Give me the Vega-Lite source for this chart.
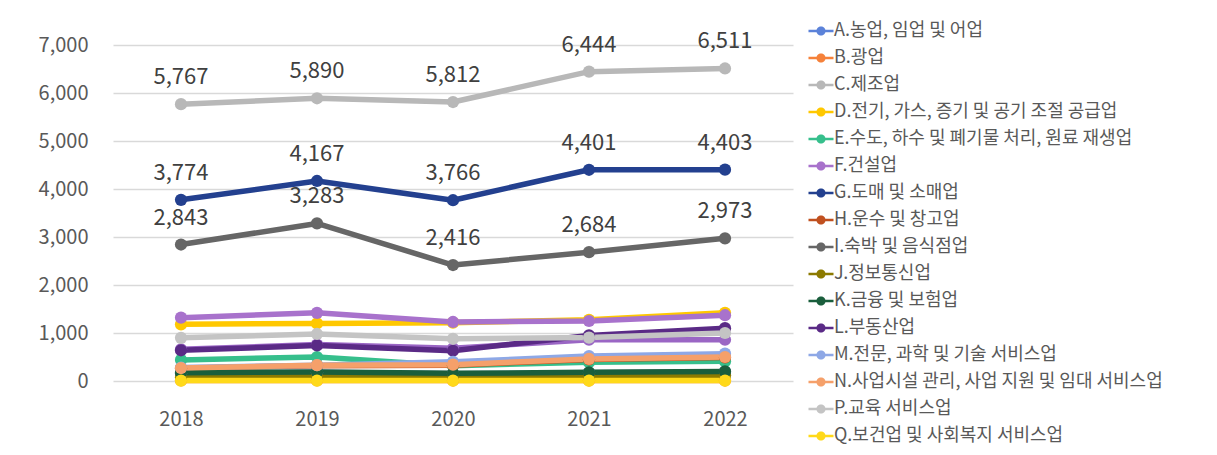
{
  "$schema": "https://vega.github.io/schema/vega-lite/v6.json",
  "width": 680,
  "height": 336,
  "autosize": {"type": "none"},
  "padding": {"left": 113, "top": 45, "right": 424, "bottom": 74},
  "background": "#ffffff",
  "config": {
    "view": {"stroke": null},
    "font": "Noto Sans CJK KR",
    "axis": {"labelFont": "Noto Sans CJK KR", "labelColor": "#595959"}
  },
  "data": {
    "values": [
      {"series": "A.농업, 임업 및 어업", "year": "2018", "value": 160},
      {"series": "A.농업, 임업 및 어업", "year": "2019", "value": 180},
      {"series": "A.농업, 임업 및 어업", "year": "2020", "value": 150},
      {"series": "A.농업, 임업 및 어업", "year": "2021", "value": 170},
      {"series": "A.농업, 임업 및 어업", "year": "2022", "value": 190},
      {"series": "B.광업", "year": "2018", "value": 12},
      {"series": "B.광업", "year": "2019", "value": 12},
      {"series": "B.광업", "year": "2020", "value": 10},
      {"series": "B.광업", "year": "2021", "value": 10},
      {"series": "B.광업", "year": "2022", "value": 10},
      {"series": "C.제조업", "year": "2018", "value": 5767},
      {"series": "C.제조업", "year": "2019", "value": 5890},
      {"series": "C.제조업", "year": "2020", "value": 5812},
      {"series": "C.제조업", "year": "2021", "value": 6444},
      {"series": "C.제조업", "year": "2022", "value": 6511},
      {"series": "D.전기, 가스, 증기 및 공기 조절 공급업", "year": "2018", "value": 1180},
      {"series": "D.전기, 가스, 증기 및 공기 조절 공급업", "year": "2019", "value": 1200},
      {"series": "D.전기, 가스, 증기 및 공기 조절 공급업", "year": "2020", "value": 1215},
      {"series": "D.전기, 가스, 증기 및 공기 조절 공급업", "year": "2021", "value": 1275},
      {"series": "D.전기, 가스, 증기 및 공기 조절 공급업", "year": "2022", "value": 1420},
      {"series": "E.수도, 하수 및 폐기물 처리, 원료 재생업", "year": "2018", "value": 440},
      {"series": "E.수도, 하수 및 폐기물 처리, 원료 재생업", "year": "2019", "value": 500},
      {"series": "E.수도, 하수 및 폐기물 처리, 원료 재생업", "year": "2020", "value": 320},
      {"series": "E.수도, 하수 및 폐기물 처리, 원료 재생업", "year": "2021", "value": 390},
      {"series": "E.수도, 하수 및 폐기물 처리, 원료 재생업", "year": "2022", "value": 410},
      {"series": "F.건설업", "year": "2018", "value": 1320},
      {"series": "F.건설업", "year": "2019", "value": 1420},
      {"series": "F.건설업", "year": "2020", "value": 1230},
      {"series": "F.건설업", "year": "2021", "value": 1250},
      {"series": "F.건설업", "year": "2022", "value": 1370},
      {"series": "G.도매 및 소매업", "year": "2018", "value": 3774},
      {"series": "G.도매 및 소매업", "year": "2019", "value": 4167},
      {"series": "G.도매 및 소매업", "year": "2020", "value": 3766},
      {"series": "G.도매 및 소매업", "year": "2021", "value": 4401},
      {"series": "G.도매 및 소매업", "year": "2022", "value": 4403},
      {"series": "H.운수 및 창고업", "year": "2018", "value": 265},
      {"series": "H.운수 및 창고업", "year": "2019", "value": 320},
      {"series": "H.운수 및 창고업", "year": "2020", "value": 330},
      {"series": "H.운수 및 창고업", "year": "2021", "value": 450},
      {"series": "H.운수 및 창고업", "year": "2022", "value": 490},
      {"series": "I.숙박 및 음식점업", "year": "2018", "value": 2843},
      {"series": "I.숙박 및 음식점업", "year": "2019", "value": 3283},
      {"series": "I.숙박 및 음식점업", "year": "2020", "value": 2416},
      {"series": "I.숙박 및 음식점업", "year": "2021", "value": 2684},
      {"series": "I.숙박 및 음식점업", "year": "2022", "value": 2973},
      {"series": "J.정보통신업", "year": "2018", "value": 80},
      {"series": "J.정보통신업", "year": "2019", "value": 90},
      {"series": "J.정보통신업", "year": "2020", "value": 90},
      {"series": "J.정보통신업", "year": "2021", "value": 110},
      {"series": "J.정보통신업", "year": "2022", "value": 120},
      {"series": "K.금융 및 보험업", "year": "2018", "value": 170},
      {"series": "K.금융 및 보험업", "year": "2019", "value": 190},
      {"series": "K.금융 및 보험업", "year": "2020", "value": 160},
      {"series": "K.금융 및 보험업", "year": "2021", "value": 180},
      {"series": "K.금융 및 보험업", "year": "2022", "value": 200},
      {"series": "R.예술, 스포츠 및 여가관련 서비스업", "year": "2018", "value": 660},
      {"series": "R.예술, 스포츠 및 여가관련 서비스업", "year": "2019", "value": 760},
      {"series": "R.예술, 스포츠 및 여가관련 서비스업", "year": "2020", "value": 680},
      {"series": "R.예술, 스포츠 및 여가관련 서비스업", "year": "2021", "value": 860},
      {"series": "R.예술, 스포츠 및 여가관련 서비스업", "year": "2022", "value": 860},
      {"series": "L.부동산업", "year": "2018", "value": 640},
      {"series": "L.부동산업", "year": "2019", "value": 740},
      {"series": "L.부동산업", "year": "2020", "value": 630},
      {"series": "L.부동산업", "year": "2021", "value": 950},
      {"series": "L.부동산업", "year": "2022", "value": 1100},
      {"series": "M.전문, 과학 및 기술 서비스업", "year": "2018", "value": 280},
      {"series": "M.전문, 과학 및 기술 서비스업", "year": "2019", "value": 330},
      {"series": "M.전문, 과학 및 기술 서비스업", "year": "2020", "value": 400},
      {"series": "M.전문, 과학 및 기술 서비스업", "year": "2021", "value": 520},
      {"series": "M.전문, 과학 및 기술 서비스업", "year": "2022", "value": 570},
      {"series": "N.사업시설 관리, 사업 지원 및 임대 서비스업", "year": "2018", "value": 270},
      {"series": "N.사업시설 관리, 사업 지원 및 임대 서비스업", "year": "2019", "value": 330},
      {"series": "N.사업시설 관리, 사업 지원 및 임대 서비스업", "year": "2020", "value": 340},
      {"series": "N.사업시설 관리, 사업 지원 및 임대 서비스업", "year": "2021", "value": 460},
      {"series": "N.사업시설 관리, 사업 지원 및 임대 서비스업", "year": "2022", "value": 500},
      {"series": "P.교육 서비스업", "year": "2018", "value": 900},
      {"series": "P.교육 서비스업", "year": "2019", "value": 980},
      {"series": "P.교육 서비스업", "year": "2020", "value": 880},
      {"series": "P.교육 서비스업", "year": "2021", "value": 905},
      {"series": "P.교육 서비스업", "year": "2022", "value": 1000},
      {"series": "Q.보건업 및 사회복지 서비스업", "year": "2018", "value": 8},
      {"series": "Q.보건업 및 사회복지 서비스업", "year": "2019", "value": 8},
      {"series": "Q.보건업 및 사회복지 서비스업", "year": "2020", "value": 8},
      {"series": "Q.보건업 및 사회복지 서비스업", "year": "2021", "value": 8},
      {"series": "Q.보건업 및 사회복지 서비스업", "year": "2022", "value": 8}
    ]
  },
  "encoding": {
    "x": {
      "field": "year",
      "type": "ordinal",
      "sort": null,
      "scale": {"type": "point", "padding": 0.5},
      "axis": {
        "title": null,
        "labelAngle": 0,
        "labelFontSize": 20,
        "labelPadding": 28,
        "ticks": false,
        "domain": false,
        "grid": false
      }
    },
    "y": {
      "field": "value",
      "type": "quantitative",
      "scale": {"domain": [0, 7000], "nice": false, "zero": true},
      "axis": {
        "title": null,
        "values": [0, 1000, 2000, 3000, 4000, 5000, 6000, 7000],
        "format": ",d",
        "labelFontSize": 20,
        "labelPadding": 25,
        "ticks": false,
        "domain": false,
        "grid": true,
        "gridColor": "#d9d9d9",
        "gridWidth": 1.5
      }
    }
  },
  "layer": [
    {
      "mark": {"type": "line", "strokeWidth": 5.5, "strokeCap": "round", "strokeJoin": "round"},
      "encoding": {
        "color": {
          "field": "series",
          "type": "nominal",
          "scale": {
            "domain": [
              "A.농업, 임업 및 어업",
              "B.광업",
              "C.제조업",
              "D.전기, 가스, 증기 및 공기 조절 공급업",
              "E.수도, 하수 및 폐기물 처리, 원료 재생업",
              "F.건설업",
              "G.도매 및 소매업",
              "H.운수 및 창고업",
              "I.숙박 및 음식점업",
              "J.정보통신업",
              "K.금융 및 보험업",
              "L.부동산업",
              "M.전문, 과학 및 기술 서비스업",
              "N.사업시설 관리, 사업 지원 및 임대 서비스업",
              "P.교육 서비스업",
              "Q.보건업 및 사회복지 서비스업",
              "R.예술, 스포츠 및 여가관련 서비스업"
            ],
            "range": [
              "#5b82d9", "#f5813a", "#b8b8b8", "#ffc800", "#36bf8c",
              "#a872cc", "#23408f", "#c0501f", "#666666", "#8c7a00",
              "#1a5e3c", "#5a2a86", "#8ea8e6", "#f5a06a", "#c4c4c4",
              "#ffd91a", "#9a66c4"
            ]
          },
          "legend": {
            "title": null,
            "orient": "none",
            "legendX": 699,
            "legendY": -23,
            "values": [
              "A.농업, 임업 및 어업",
              "B.광업",
              "C.제조업",
              "D.전기, 가스, 증기 및 공기 조절 공급업",
              "E.수도, 하수 및 폐기물 처리, 원료 재생업",
              "F.건설업",
              "G.도매 및 소매업",
              "H.운수 및 창고업",
              "I.숙박 및 음식점업",
              "J.정보통신업",
              "K.금융 및 보험업",
              "L.부동산업",
              "M.전문, 과학 및 기술 서비스업",
              "N.사업시설 관리, 사업 지원 및 임대 서비스업",
              "P.교육 서비스업",
              "Q.보건업 및 사회복지 서비스업"
            ],
            "symbolType": "M-1.5,-0.14 L1.5,-0.14 L1.5,0.14 L-1.5,0.14 Z M-0.55,0 A0.55,0.55 0 1 1 0.55,0 A0.55,0.55 0 1 1 -0.55,0 Z",
            "symbolSize": 278,
            "symbolStrokeWidth": 0,
            "labelFontSize": 18,
            "labelColor": "#595959",
            "labelFont": "Noto Sans CJK KR",
            "labelLimit": 400,
            "labelOffset": 4,
            "rowPadding": 9,
            "encode": {
              "symbols": {
                "update": {
                  "fill": {"scale": "color", "field": "value"},
                  "fillOpacity": {"value": 1},
                  "stroke": {"value": "transparent"}
                }
              }
            }
          }
        }
      }
    },
    {
      "mark": {"type": "point", "filled": true, "size": 150, "opacity": 1, "shape": "circle"},
      "encoding": {
        "color": {"field": "series", "type": "nominal", "legend": null}
      }
    },
    {
      "transform": [
        {"filter": {"field": "series", "oneOf": ["C.제조업", "G.도매 및 소매업", "I.숙박 및 음식점업"]}}
      ],
      "mark": {"type": "text", "dy": -27, "fontSize": 22, "color": "#404040", "baseline": "middle", "font": "Noto Sans CJK KR"},
      "encoding": {
        "text": {"field": "value", "type": "quantitative", "format": ","}
      }
    }
  ]
}
